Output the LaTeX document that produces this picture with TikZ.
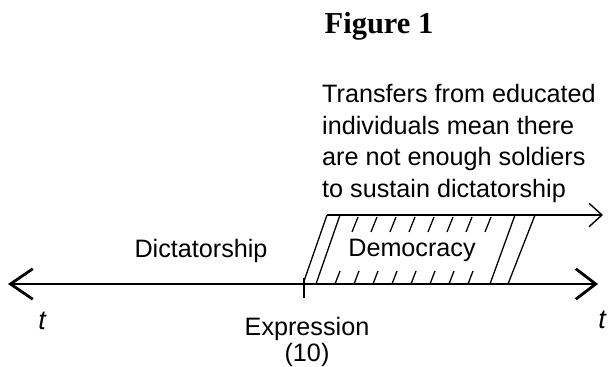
\documentclass[tikz,border=0pt]{standalone}
\usepackage{fontspec}
\setmainfont{Liberation Sans}
\newfontfamily\titlefont{Liberation Serif}
\usetikzlibrary{arrows.meta}

\tikzset{
  lbl/.style={font=\fontsize{21.5}{27}\selectfont},
  hatch/.style={line width=1.1pt},
  timeaxis/.style={line width=2.4pt,
    {Straight Barb[length=19pt,width=26pt,line width=2.4pt]}-{Straight Barb[length=17pt,width=26pt,line width=2.4pt]}},
  regime/.style={line width=1.2pt,-{Straight Barb[length=11pt,width=20pt,line width=1.2pt]}}
}

\begin{document}
\begin{tikzpicture}[x=0.03cm,y=-0.03cm]
        \useasboundingbox (0,0) rectangle (608,367);
        \node[font=\titlefont\bfseries\fontsize{26}{30}\selectfont] (title) at (379,26) {Figure 1};

        % time axis
        \coordinate (tleft) at (8,284);
        \coordinate (tright) at (598,284);
        \draw[timeaxis] (tleft) -- (tright);
        \node[font=\itshape\fontsize{23}{26}\selectfont] (tl) at (42,321) {t};
        \node[font=\itshape\fontsize{23}{26}\selectfont] (tr) at (602,320) {t};

        % threshold
        \coordinate (thr) at (304,284);
        \draw[line width=1.2pt] (thr) ++(0,-6) -- ++(0,20);
        \node[lbl, font=\fontsize{21.5}{22}\selectfont, align=center, anchor=north] (expr) at (307,313) {Expression\\(10)};

        % democracy band
        \coordinate (dstart) at (327,215);
        \coordinate (dend) at (603,215);
        \draw[regime] (dstart) -- (dend);
        \draw[hatch] (303,284) -- (dstart);
        \draw[hatch] (316,284) -- (340,215);
        \draw[hatch] (490,284) -- (515,215);
        \draw[hatch] (508,284) -- (535,215);
        \foreach \x in {0,...,7} {
            \draw[hatch] (358+19*\x,217) -- ++(-6,15);
            \draw[hatch] (335+19*\x,284) -- ++(5,-13);
        }

        \node[lbl] (dict) at (201,251) {Dictatorship};
        \node[lbl] (demo) at (412,250) {Democracy};
        \node[lbl, align=left, anchor=north west, inner sep=0pt] (note) at (322,84)
            {Transfers from educated\\individuals mean there\\are not enough soldiers\\to sustain dictatorship};
\end{tikzpicture}
\end{document}
